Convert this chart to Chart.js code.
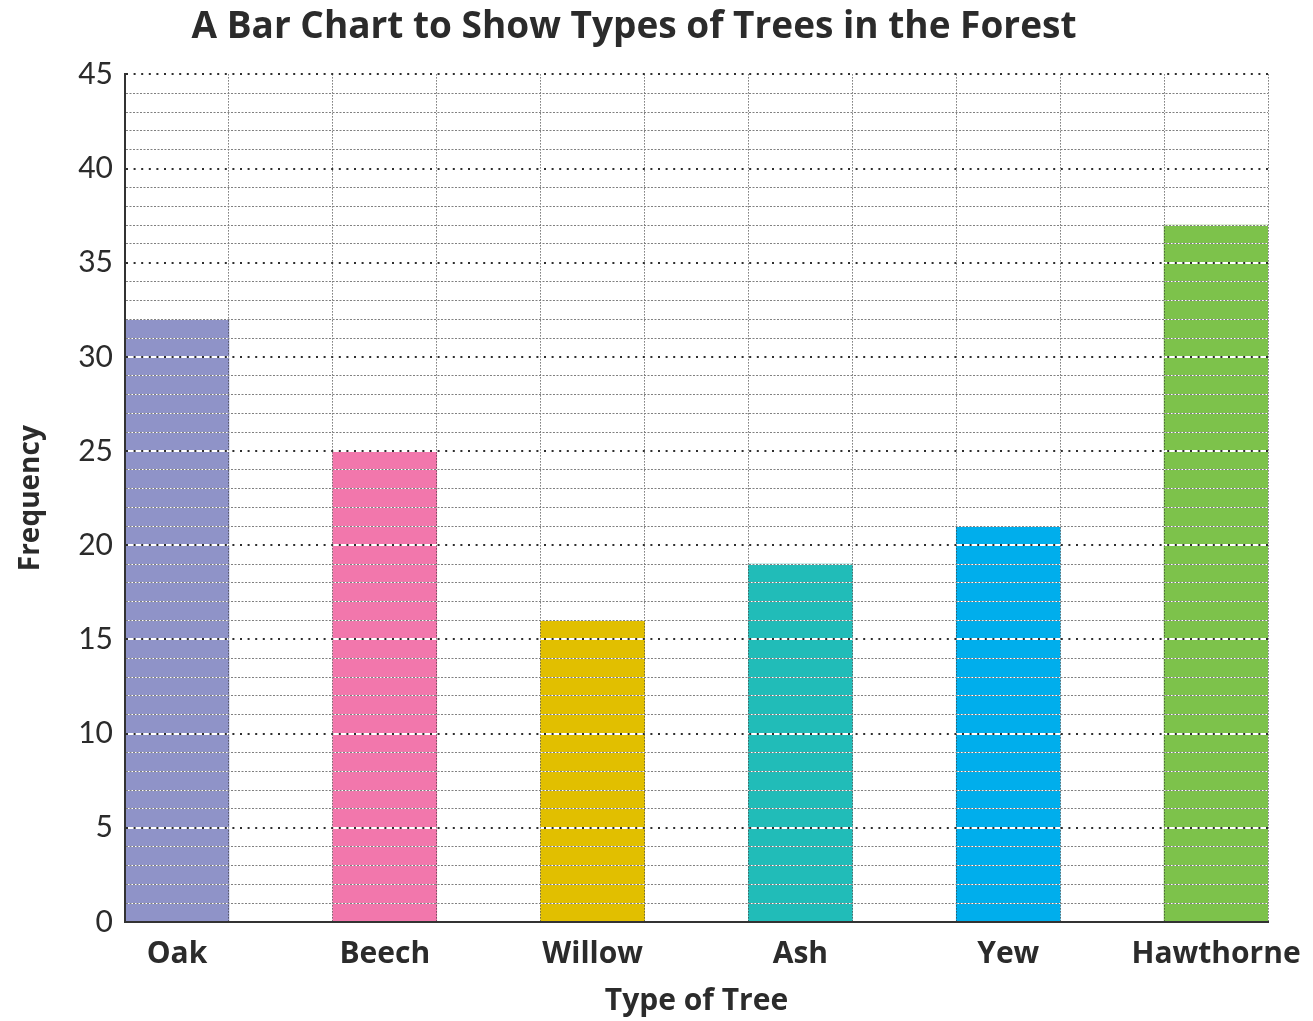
<!DOCTYPE html>
<html><head><meta charset="utf-8">
<script src="https://cdn.jsdelivr.net/npm/chart.js@4"></script>
<style>html,body{margin:0;padding:0;background:#fff}#wrap{width:1313px;height:1021px}</style>
</head><body><div id="wrap"><canvas id="c" width="1313" height="1021"></canvas></div>
<script>
const categories = ['Oak', 'Beech', 'Willow', 'Ash', 'Yew', 'Hawthorne'];
const frequencies = [32, 25, 16, 19, 21, 37];
const barColors = ['#8F93C8', '#F277AC', '#E1BF00', '#21BCB8', '#00AEEC', '#7DC24B'];
const yTickLabels = [0, 5, 10, 15, 20, 25, 30, 35, 40, 45];
const chartTitle = 'A Bar Chart to Show Types of Trees in the Forest';
const xTitle = 'Type of Tree';
const yTitle = 'Frequency';

// Build slots: each bar followed by an empty gap slot of equal width
const slotLabels = [], slotData = [], slotColors = [];
categories.forEach((c, i) => {
  slotLabels.push(c); slotData.push(frequencies[i]); slotColors.push(barColors[i]);
  if (i < categories.length - 1) { slotLabels.push(''); slotData.push(null); slotColors.push('rgba(0,0,0,0)'); }
});

const isMajor = v => yTickLabels.includes(v);
const TXT = '#2b2b2b';
const BOLD = 'Open Sans';

new Chart(document.getElementById('c'), {
  type: 'bar',
  data: {
    labels: slotLabels,
    datasets: [{
      data: slotData,
      backgroundColor: slotColors,
      borderWidth: 0,
      barPercentage: 1,
      categoryPercentage: 1
    }]
  },
  options: {
    responsive: false,
    animation: false,
    devicePixelRatio: 1,
    layout: { padding: { left: 0, right: 45, top: 0, bottom: 0 } },
    plugins: {
      legend: { display: false },
      tooltip: { enabled: false },
      title: {
        display: true,
        text: chartTitle,
        color: TXT,
        font: { family: BOLD, size: 37, weight: 'bold' },
        padding: { top: 5, bottom: 25 }
      }
    },
    scales: {
      x: {
        offset: true,
        ticks: {
          color: TXT,
          font: { family: BOLD, size: 30, weight: 'bold' },
          padding: 14,
          autoSkip: false,
          maxRotation: 0,
          z: 5
        },
        grid: {
          z: 2,
          offset: true,
          drawTicks: false,
          lineWidth: 1,
          color: ctx => (ctx.index === 0 ? 'rgba(0,0,0,0)' : '#333')
        },
        border: { display: true, color: '#333', width: 2, dash: [1, 2], z: 4 },
        title: {
          display: true,
          text: xTitle,
          color: TXT,
          font: { family: BOLD, size: 30, weight: 'bold' },
          padding: { top: 4, bottom: 2 }
        },
        afterFit: s => { s.height = 99; s.paddingLeft = 0; s.paddingRight = 0; }
      },
      y2: {
        position: 'left',
        min: 0, max: 45,
        ticks: { display: false, stepSize: 1 },
        grid: {
          z: 1,
          drawTicks: false,
          color: '#ffffff',
          lineWidth: ctx => (ctx.tick && isMajor(ctx.tick.value) ? 2 : 1)
        },
        border: { display: false },
        afterFit: s => { s.width = 0; }
      },
      y: {
        position: 'left',
        min: 0, max: 45,
        ticks: {
          stepSize: 1,
          autoSkip: false,
          color: TXT,
          padding: 12,
          font: { family: 'Lato', size: 30 },
          callback: v => (isMajor(v) ? String(v) : ''),
          z: 5
        },
        grid: {
          z: 3,
          drawTicks: false,
          color: ctx => {
            if (!ctx.tick || ctx.tick.value === 0) return 'rgba(0,0,0,0)';
            return isMajor(ctx.tick.value) ? '#2e2e2e' : '#808080';
          },
          lineWidth: ctx => (ctx.tick && isMajor(ctx.tick.value) ? 2 : 1)
        },
        border: {
          display: true, color: '#333', width: 2, z: 4,
          dash: ctx => (ctx.tick && isMajor(ctx.tick.value) ? [2, 5.6] : [2, 1.5])
        },
        title: {
          display: true,
          text: yTitle,
          color: TXT,
          font: { family: BOLD, size: 28, weight: 'bold' },
          padding: { top: 14, bottom: 0 }
        },
        afterFit: s => { s.width = 125; }
      }
    }
  }
});
</script></body></html>
